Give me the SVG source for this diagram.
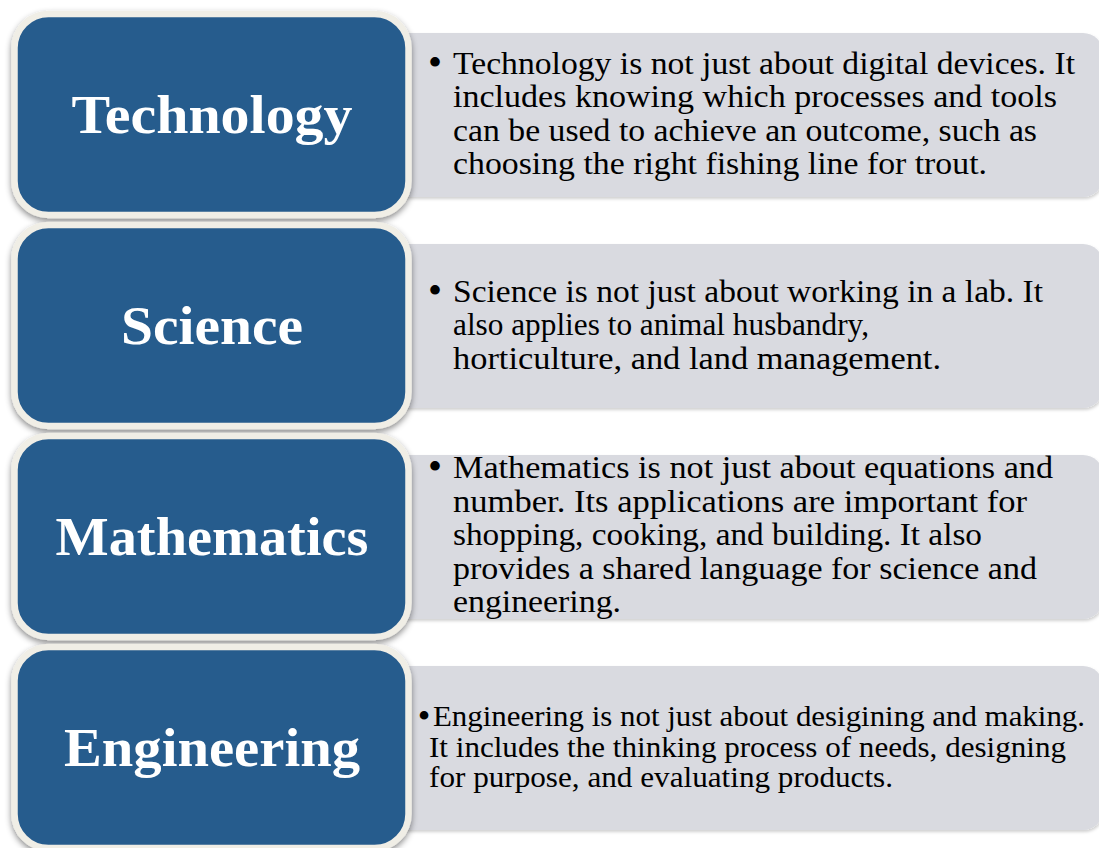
<svg xmlns="http://www.w3.org/2000/svg" width="1099" height="848" viewBox="0 0 1099 848">
<defs>
<filter id="sh" x="-10%" y="-10%" width="120%" height="125%">
<feDropShadow dx="0" dy="3" stdDeviation="3" flood-color="#000" flood-opacity="0.45"/>
</filter>
<filter id="sh2" x="-5%" y="-10%" width="110%" height="125%">
<feDropShadow dx="1" dy="2" stdDeviation="1.5" flood-color="#000" flood-opacity="0.18"/>
</filter>
<style>
.gray{fill:#d9dae0;filter:url(#sh2);}
.blue{fill:#285c8d;stroke:#f0eee6;stroke-width:6.5;filter:url(#sh);}
.lbl{font-family:"Liberation Serif","DejaVu Serif",serif;font-weight:bold;font-size:55px;fill:#ffffff;text-anchor:middle;}
.body{font-family:"Liberation Serif","DejaVu Serif",serif;font-size:32px;fill:#000000;}
.body4{font-family:"Liberation Serif","DejaVu Serif",serif;font-size:29px;fill:#000000;}
.bul{font-family:"Liberation Serif","DejaVu Serif",serif;font-size:40px;fill:#000000;text-anchor:middle;}
</style>
</defs>
<g id="connectors"></g>
<g id="row-technology">
<rect class="gray" x="390" y="33" width="713" height="164" rx="20"/>
<rect class="blue" x="14.5" y="14" width="394" height="201" rx="34"/>
<text class="lbl" x="212" y="133" textLength="281" lengthAdjust="spacingAndGlyphs">Technology</text>
<text class="bul" x="435" y="76">•</text>
<text class="body" x="453" y="74" textLength="622" lengthAdjust="spacingAndGlyphs">Technology is not just about digital devices. It</text>
<text class="body" x="453" y="107.3" textLength="604" lengthAdjust="spacingAndGlyphs">includes knowing which processes and tools</text>
<text class="body" x="453" y="140.6" textLength="584" lengthAdjust="spacingAndGlyphs">can be used to achieve an outcome, such as</text>
<text class="body" x="453" y="174" textLength="534" lengthAdjust="spacingAndGlyphs">choosing the right fishing line for trout.</text>
</g>
<g id="row-science">
<rect class="gray" x="390" y="244" width="713" height="164" rx="20"/>
<rect class="blue" x="14.5" y="225" width="394" height="201" rx="34"/>
<text class="lbl" x="212" y="344" textLength="182" lengthAdjust="spacingAndGlyphs">Science</text>
<text class="bul" x="435" y="304">•</text>
<text class="body" x="453" y="302" textLength="590" lengthAdjust="spacingAndGlyphs">Science is not just about working in a lab. It</text>
<text class="body" x="453" y="335.3" textLength="416" lengthAdjust="spacingAndGlyphs">also applies to animal husbandry,</text>
<text class="body" x="453" y="368.6" textLength="488" lengthAdjust="spacingAndGlyphs">horticulture, and land management.</text>
</g>
<g id="row-mathematics">
<rect class="gray" x="390" y="455" width="713" height="164" rx="20"/>
<rect class="blue" x="14.5" y="436" width="394" height="201" rx="34"/>
<text class="lbl" x="212" y="555" textLength="313" lengthAdjust="spacingAndGlyphs">Mathematics</text>
<text class="bul" x="435" y="480">•</text>
<text class="body" x="453" y="478" textLength="600" lengthAdjust="spacingAndGlyphs">Mathematics is not just about equations and</text>
<text class="body" x="453" y="511.5" textLength="574" lengthAdjust="spacingAndGlyphs">number. Its applications are important for</text>
<text class="body" x="453" y="545" textLength="529" lengthAdjust="spacingAndGlyphs">shopping, cooking, and building. It also</text>
<text class="body" x="453" y="578.5" textLength="584" lengthAdjust="spacingAndGlyphs">provides a shared language for science and</text>
<text class="body" x="453" y="612" textLength="168" lengthAdjust="spacingAndGlyphs">engineering.</text>
</g>
<g id="row-engineering">
<rect class="gray" x="390" y="666" width="713" height="164" rx="20"/>
<rect class="blue" x="14.5" y="647" width="394" height="201" rx="34"/>
<text class="lbl" x="212" y="766" textLength="296" lengthAdjust="spacingAndGlyphs">Engineering</text>
<text class="bul" x="424" y="728" style="font-size:36px">•</text>
<text class="body4" x="433" y="726" textLength="652" lengthAdjust="spacingAndGlyphs">Engineering is not just about desigining and making.</text>
<text class="body4" x="429" y="756.5" textLength="637" lengthAdjust="spacingAndGlyphs">It includes the thinking process of needs, designing</text>
<text class="body4" x="429" y="787" textLength="464" lengthAdjust="spacingAndGlyphs">for purpose, and evaluating products.</text>
</g>
</svg>
